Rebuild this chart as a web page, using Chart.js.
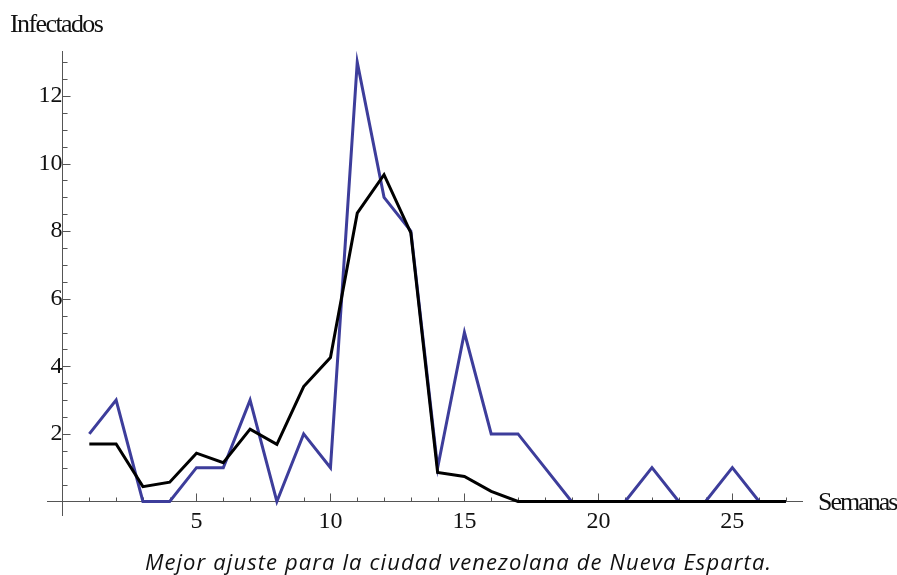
<!DOCTYPE html>
<html lang="es">
<head>
  <meta charset="UTF-8" />
  <title>Nueva Esparta - ajuste</title>
  <script src="https://cdn.jsdelivr.net/npm/chart.js"></script>
  <style>
    html,body{margin:0;padding:0;background:#fff;}
    .wrap{position:relative;width:897px;height:575px;overflow:hidden;}
    canvas{position:absolute;left:0;top:0;}
    .lbl{position:absolute;font-family:"Liberation Serif","DejaVu Serif",serif;font-size:26px;
         color:#111;white-space:nowrap;line-height:1;}
    #ylab{left:10px;top:11px;letter-spacing:-1.6px;}
    #xlab{left:818px;top:489px;letter-spacing:-2px;}
    #caption{position:absolute;left:0;width:917px;top:546px;text-align:center;white-space:nowrap;
             font-family:"Open Sans",Lato,sans-serif;font-style:italic;font-size:22px;
             letter-spacing:1.1px;color:#111;}
  </style>
</head>
<body>
  <div class="wrap">
    <canvas id="chart" width="897" height="575"></canvas>
    <div class="lbl" id="ylab">Infectados</div>
    <div class="lbl" id="xlab">Semanas</div>
    <div id="caption">Mejor ajuste para la ciudad venezolana de Nueva Esparta.</div>
  </div>

  <script>
    // semanas 1..27
    const weeks=[1,2,3,4,5,6,7,8,9,10,11,12,13,14,15,16,17,18,19,20,21,22,23,24,25,26,27];
    // casos observados (azul)
    const observed=[2,3,0,0,1,1,3,0,2,1,13,9,8,1,5,2,2,1,0,0,0,1,0,0,1,0,0];
    // ajuste del modelo (negro)
    const fitted=[1.70,1.70,0.44,0.57,1.43,1.15,2.14,1.69,3.40,4.26,8.53,9.67,7.95,0.86,0.74,0.30,0,0,0,0,0,0,0,0,0,0,0];
    const xTickLabels=[5,10,15,20,25];
    const yTickLabels=[2,4,6,8,10,12];

    const axisColor='#555';
    Chart.defaults.font.family='"Liberation Serif", "Times New Roman", serif';
    const tickFont={family:'"Liberation Serif", "Times New Roman", serif',size:24};

    // tick marks drawn inside the axes, Mathematica style
    const innerTicks={
      id:'innerTicks',
      beforeDatasetsDraw(chart){
        const {ctx,scales:{x,y}}=chart;
        const x0=x.getPixelForValue(0), y0=y.getPixelForValue(0);
        ctx.save();
        ctx.strokeStyle=axisColor;
        ctx.lineWidth=1;
        ctx.beginPath();
        for(let v=1;v<=27;v++){
          const px=Math.round(x.getPixelForValue(v))+0.5;
          const len=xTickLabels.includes(v)?8:4;
          ctx.moveTo(px,y0);ctx.lineTo(px,y0-len);
        }
        for(let v=0.5;v<=13;v+=0.5){
          const py=Math.round(y.getPixelForValue(v))+0.5;
          const len=yTickLabels.includes(v)?8:5;
          ctx.moveTo(x0,py);ctx.lineTo(x0+len,py);
        }
        ctx.stroke();
        ctx.restore();
      }
    };

    new Chart(document.getElementById('chart'),{
      type:'line',
      data:{
        datasets:[
          {label:'Ajuste',data:weeks.map((w,i)=>({x:w,y:fitted[i]})),
           borderColor:'#000',borderWidth:3,pointRadius:0,tension:0},
          {label:'Observados',data:weeks.map((w,i)=>({x:w,y:observed[i]})),
           borderColor:'#3d3d9b',borderWidth:3,pointRadius:0,tension:0}
        ]
      },
      options:{
        responsive:false,animation:false,
        layout:{padding:{left:47,top:51,right:95,bottom:60}},
        plugins:{legend:{display:false},tooltip:{enabled:false}},
        scales:{
          x:{type:'linear',position:{y:0},min:-0.58,max:27.6,
             grid:{display:false,drawTicks:false},
             border:{display:true,color:axisColor,width:1},
             ticks:{stepSize:1,autoSkip:false,maxRotation:0,padding:6,color:'#111',font:tickFont,
                    callback:v=>xTickLabels.includes(v)?String(v):''}},
          y:{type:'linear',position:{x:0},min:-0.4,max:13.33,
             grid:{display:false,drawTicks:false},
             border:{display:true,color:axisColor,width:1},
             ticks:{stepSize:0.5,autoSkip:false,padding:8,color:'#111',font:tickFont,
                    callback:v=>yTickLabels.includes(v)?String(v):''}}
        }
      },
      plugins:[innerTicks]
    });
  </script>
</body>
</html>
